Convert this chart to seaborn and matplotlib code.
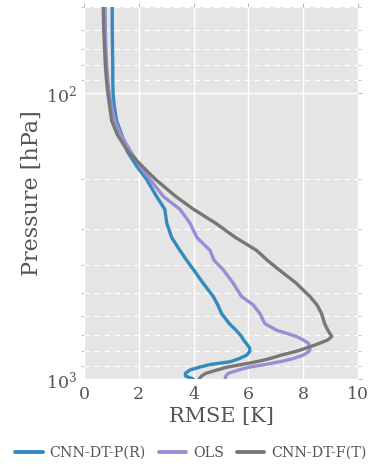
import matplotlib
matplotlib.use("Agg")
import matplotlib.pyplot as plt
import seaborn as sns
import pandas as pd
import numpy as np
from matplotlib.ticker import LogLocator, NullFormatter, FixedLocator
from matplotlib.lines import Line2D

pressure = [50, 60, 70, 80, 90, 100, 110, 125, 140, 160, 180, 200, 230, 255, 285,
            320, 355, 385, 415, 460, 515, 550, 590, 640, 675, 710, 730, 750, 780,
            800, 825, 850, 870, 890, 910, 930, 955, 975, 1000]

cnn_p = [1.03, 1.03, 1.04, 1.05, 1.05, 1.06, 1.1, 1.19, 1.38, 1.58, 1.92, 2.28, 2.65,
         2.95, 3.02, 3.2, 3.5, 3.75, 4.0, 4.33, 4.72, 4.88, 5.02, 5.3, 5.55, 5.75,
         5.82, 5.92, 6.05, 6.05, 5.94, 5.65, 5.33, 4.6, 4.2, 3.87, 3.7, 3.7, 3.98]

ols = [0.77, 0.78, 0.8, 0.83, 0.87, 0.92, 1.0, 1.13, 1.35, 1.7, 2.04, 2.4, 2.9, 3.5,
       3.87, 4.12, 4.6, 4.75, 5.08, 5.43, 5.75, 6.17, 6.42, 6.6, 7.03, 7.75, 8.0,
       8.19, 8.25, 8.22, 8.0, 7.6, 7.15, 6.6, 6.0, 5.65, 5.27, 5.18, 5.15]

cnn_f = [0.7, 0.72, 0.75, 0.78, 0.82, 0.87, 0.93, 1.01, 1.22, 1.6, 2.12, 2.6, 3.35,
         4.0, 4.8, 5.53, 6.3, 6.7, 7.12, 7.72, 8.25, 8.5, 8.67, 8.78, 8.9, 9.04, 8.9,
         8.6, 8.1, 7.75, 7.2, 6.75, 6.3, 5.75, 5.2, 4.85, 4.45, 4.3, 4.2]

labels = ["CNN-DT-P(R)", "OLS", "CNN-DT-F(T)"]
colors = ["#348ABD", "#988ED5", "#777777"]

df = pd.concat([
    pd.DataFrame({"RMSE": v, "Pressure": pressure, "Model": lab})
    for v, lab in zip([cnn_p, ols, cnn_f], labels)
], ignore_index=True)

sns.set_theme(style="darkgrid")
plt.rcParams["font.family"] = ["DejaVu Serif"]
plt.rcParams["mathtext.fontset"] = "dejavuserif"
text_col = "#555555"

fig = plt.figure(figsize=(3.82, 4.71), dpi=100)
ax = fig.add_axes([84/382, 1-379/471, 274/382, 372/471])
ax.set_facecolor("#E5E5E5")

sns.lineplot(data=df, x="RMSE", y="Pressure", hue="Model", hue_order=labels,
             palette=colors, orient="y", sort=True, linewidth=2.4, ax=ax,
             legend=False)
for ln in ax.get_lines():
    ln.set_solid_joinstyle("round")
    ln.set_solid_capstyle("round")

ax.set_yscale("log")
ax.set_ylim(1000, 50)
ax.set_xlim(0, 10)
ax.set_xticks([0, 2, 4, 6, 8, 10])
ax.yaxis.set_major_locator(FixedLocator([100, 1000]))
ax.yaxis.set_minor_locator(LogLocator(base=10, subs=np.arange(2, 10)))
ax.yaxis.set_minor_formatter(NullFormatter())

ax.grid(True, which="major", color="white", linewidth=1.0, linestyle="-")
ax.grid(True, which="minor", axis="y", color="white", linewidth=0.8, linestyle=(0, (5, 4)))
ax.set_axisbelow(True)
for s in ax.spines.values():
    s.set_visible(False)

ax.tick_params(axis="both", which="major", labelsize=12.5, colors="#AAAAAA",
               length=3, width=0.6, direction="out", top=True, right=True,
               labelcolor=text_col, pad=2)
ax.tick_params(axis="y", which="minor", length=2, width=0.5, right=True, left=True,
               colors="#AAAAAA")

ax.set_xlabel("RMSE [K]", fontsize=15, color=text_col, labelpad=3)
ax.set_ylabel("Pressure [hPa]", fontsize=16, color=text_col, labelpad=2)

handles = [Line2D([0], [0], color=c, lw=2.8) for c in colors]
fig.legend(handles, labels, loc="center", bbox_to_anchor=(0.5, 0.038), ncol=3,
           frameon=False, fontsize=10.3, labelcolor=text_col, handlelength=1.9,
           columnspacing=0.9, handletextpad=0.5)

fig.savefig("out.png", dpi=100)
